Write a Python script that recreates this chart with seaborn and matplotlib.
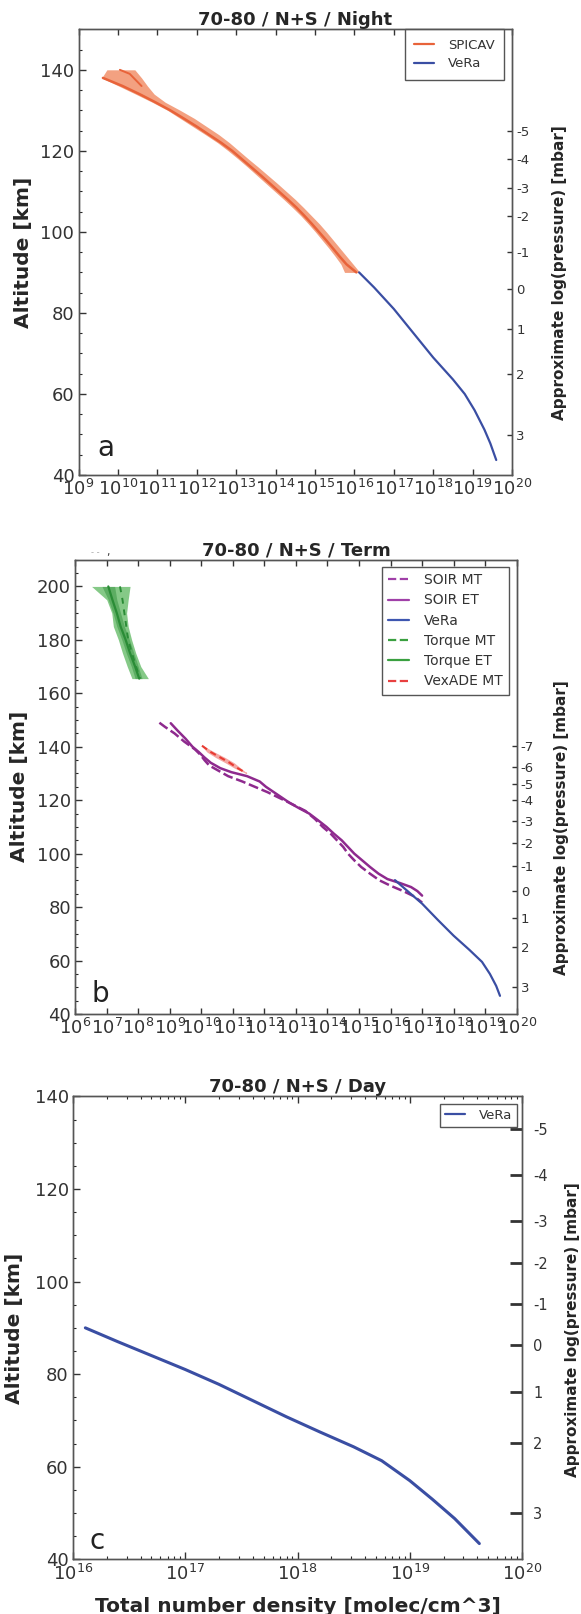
import numpy as np
import matplotlib
matplotlib.use("Agg")
import matplotlib.pyplot as plt
import matplotlib.ticker as mticker
from matplotlib.lines import Line2D
import seaborn as sns

# ---- data (log10 of total number density, altitude in km) ----
# panel a : night
spicav_band_alt = [140, 138, 136, 134, 132, 130, 128, 126, 124, 122, 120, 118, 116,
                   114, 112, 110, 108, 106, 104, 102, 100, 98, 96, 94, 92, 90]
spicav_band_lo = [9.72, 9.59, 10.02, 10.45, 10.87, 11.26, 11.58, 11.90, 12.22, 12.53, 12.80,
                  13.05, 13.29, 13.52, 13.75, 13.98, 14.21, 14.43, 14.64, 14.83, 15.01,
                  15.18, 15.35, 15.51, 15.66, 15.75]
spicav_band_hi = [10.43, 10.60, 10.75, 10.92, 11.20, 11.58, 11.94, 12.25, 12.56, 12.83, 13.07,
                  13.31, 13.56, 13.80, 14.04, 14.27, 14.50, 14.71, 14.91, 15.11, 15.29,
                  15.46, 15.63, 15.80, 15.97, 16.14]
spicav_line_alt = [138, 136, 134, 132, 130, 128, 126, 124, 122, 120, 118, 116, 114, 112,
                   110, 108, 106, 104, 102, 100, 98, 96, 94, 92, 90]
spicav_line = [9.62, 10.12, 10.55, 10.95, 11.33, 11.67, 12.00, 12.31, 12.62, 12.90, 13.14,
               13.38, 13.62, 13.85, 14.08, 14.31, 14.53, 14.73, 14.92, 15.10, 15.28, 15.45,
               15.62, 15.80, 16.05]
spicav_hook_alt = [140, 139, 137.5, 136]
spicav_hook = [10.05, 10.30, 10.45, 10.60]

vera_night_alt = [90, 86.3, 81.0, 75.0, 69.0, 63.6, 60.0, 56.0, 51.2, 47.8, 43.7]
vera_night = [16.12, 16.50, 17.00, 17.50, 18.00, 18.50, 18.80, 19.05, 19.30, 19.45, 19.60]

press_a_alt = [124.9, 117.9, 110.9, 103.9, 95.0, 86.0, 76.0, 65.0, 49.8]
press_a_lab = ["-5", "-4", "-3", "-2", "-1", "0", "1", "2", "3"]

# panel b : terminator
soir_et_alt = [148.8, 146, 143, 140, 138, 136, 134, 132, 130.5, 129, 127, 125, 123, 121,
               119, 117, 115, 112.5, 110, 107.5, 105, 102.5, 100, 97.5, 95, 92.5, 90.5,
               89, 87.5, 86, 84.3]
soir_et = [9.03, 9.25, 9.50, 9.72, 9.92, 10.10, 10.30, 10.60, 10.95, 11.45, 11.85, 12.05,
           12.30, 12.55, 12.80, 13.10, 13.42, 13.70, 13.97, 14.20, 14.45, 14.65, 14.85,
           15.10, 15.35, 15.62, 15.90, 16.30, 16.65, 16.85, 17.00]
soir_mt_alt = [149, 147.5, 145, 142, 139, 137, 135, 133, 131, 129, 127, 125, 123, 121, 119,
               116, 113, 110, 107.5, 105, 102.5, 100, 97.5, 95, 92.5, 90, 88, 86, 84, 81.7]
soir_mt = [8.67, 8.84, 9.15, 9.45, 9.80, 9.97, 10.10, 10.25, 10.55, 10.85, 11.30, 11.70,
           12.10, 12.45, 12.80, 13.30, 13.60, 13.85, 14.10, 14.30, 14.50, 14.65, 14.85,
           15.07, 15.35, 15.65, 16.00, 16.40, 16.75, 17.00]

vera_term_alt = [90.1, 86.4, 81.3, 75.2, 69.3, 64.0, 59.5, 55.0, 50.5, 46.8]
vera_term = [16.14, 16.50, 17.00, 17.50, 18.00, 18.50, 18.90, 19.15, 19.35, 19.47]

torque_alt = [200, 195, 190, 185, 180, 175, 170, 165.5]
torque_et = [7.05, 7.18, 7.32, 7.44, 7.60, 7.74, 7.90, 8.03]
torque_mt = [7.42, 7.50, 7.56, 7.62, 7.68, 7.80, 7.93, 8.06]
torque_mt_lo = [6.52, 7.00, 7.16, 7.21, 7.37, 7.50, 7.65, 7.80]
torque_mt_hi = [7.74, 7.68, 7.63, 7.68, 7.79, 7.92, 8.08, 8.32]
torque_et_lo = [6.85, 7.05, 7.20, 7.32, 7.48, 7.62, 7.78, 7.90]
torque_et_hi = [7.25, 7.32, 7.44, 7.56, 7.72, 7.86, 8.00, 8.12]

vex_alt = [140.4, 138, 136, 134, 132, 130.1]
vex_mt = [10.02, 10.30, 10.60, 10.90, 11.15, 11.43]
vex_lo = [10.00, 10.18, 10.45, 10.76, 11.05, 11.41]
vex_hi = [10.05, 10.42, 10.75, 11.04, 11.25, 11.45]

press_b_alt = [140.4, 132.3, 126.2, 120.1, 112.3, 104.0, 95.2, 86.0, 75.9, 65.2, 50.1]
press_b_lab = ["-7", "-6", "-5", "-4", "-3", "-2", "-1", "0", "1", "2", "3"]

# panel c : day
vera_day_alt = [90.0, 87.0, 84.0, 81.0, 77.8, 74.3, 70.8, 67.5, 64.3, 61.3, 57.0, 53.0,
                48.8, 43.4]
vera_day = [16.11, 16.40, 16.70, 17.00, 17.30, 17.60, 17.90, 18.20, 18.50, 18.75, 19.00,
            19.20, 19.40, 19.62]

press_c_alt = [133.0, 123.0, 113.0, 104.0, 95.2, 86.2, 76.1, 65.2, 50.1]
press_c_lab = ["-5", "-4", "-3", "-2", "-1", "0", "1", "2", "3"]

# ---- colours ----
SPICAV_C = "#e8633a"
SPICAV_F = "#f08a62"
VERA_C = "#3a4ea3"
SOIR_C = "#8e2a8e"
TORQUE_C = "#2a8c36"
TORQUE_F = "#5cb85f"
VEX_C = "#e83b32"

sns.set_style("ticks", {"xtick.direction": "in", "ytick.direction": "in",
                        "axes.edgecolor": "#444444"})
plt.rcParams["font.family"] = ["DejaVu Sans"]
plt.rcParams["axes.linewidth"] = 1.0

W, H = 581, 1614
fig = plt.figure(figsize=(W / 100, H / 100), dpi=100)


def px_rect(left, top, right, bottom):
    return [left / W, 1 - bottom / H, (right - left) / W, (bottom - top) / H]


def d(vals):
    return 10 ** np.asarray(vals, dtype=float)


def style_axes(ax, decades, ylim, title, letter, letter_xy, xminor=False):
    lo, hi = decades
    ax.set_xscale("log")
    ax.set_xlim(10.0 ** lo, 10.0 ** hi)
    ax.set_ylim(*ylim)
    # only decades inside the view, so no hidden labels sit off the figure
    ax.xaxis.set_major_locator(mticker.FixedLocator([10.0 ** k for k in range(lo, hi + 1)]))
    ax.xaxis.set_major_formatter(mticker.LogFormatterMathtext())
    if xminor:
        minors = [m * 10.0 ** k for k in range(lo, hi) for m in range(2, 10)]
        ax.xaxis.set_minor_locator(mticker.FixedLocator(minors))
        ax.xaxis.set_minor_formatter(mticker.NullFormatter())
    else:
        ax.xaxis.set_minor_locator(mticker.NullLocator())
    ax.yaxis.set_major_locator(mticker.MultipleLocator(20))
    ax.yaxis.set_minor_locator(mticker.MultipleLocator(5))
    ax.tick_params(axis="x", which="major", top=True, direction="in", length=4,
                   width=1, labelsize=13, pad=3, colors="#333333")
    ax.tick_params(axis="x", which="minor", top=True, direction="in", length=2, width=0.8)
    ax.tick_params(axis="y", which="major", left=True, right=False, direction="in",
                   length=5, width=1, labelsize=13, pad=3, colors="#333333")
    ax.tick_params(axis="y", which="minor", left=True, right=False, direction="in",
                   length=2.5, width=0.8)
    for s in ax.spines.values():
        s.set_visible(True)
        s.set_color("#555555")
    ax.set_title(title, fontsize=13, fontweight="bold", pad=3)
    ax.set_ylabel("Altitude [km]", fontsize=14.5, fontweight="bold")
    ax.text(letter_xy[0], letter_xy[1], letter, transform=ax.transAxes, fontsize=20,
            ha="center", va="center", color="#222222")


def pressure_axis(ax, alts, labels, fs, length, width, pad, label_xy, ylabel_xy):
    ax2 = ax.twinx()
    ax2.set_ylim(ax.get_ylim())
    ax2.set_yticks(alts)
    ax2.set_yticklabels(labels)
    ax2.yaxis.set_minor_locator(mticker.NullLocator())
    ax2.tick_params(axis="y", direction="in", length=length, width=width,
                    labelsize=fs, pad=pad, colors="#333333")
    for s in ax2.spines.values():
        s.set_color("#555555")
    ax2.set_ylabel("Approximate log(pressure) [mbar]", fontsize=11, fontweight="bold")
    ax2.yaxis.set_label_coords(*label_xy)
    ax.yaxis.set_label_coords(*ylabel_xy)
    return ax2


def legend(ax, items, fs, anchor, pad):
    handles = [Line2D([0], [0], color=c, ls=ls, lw=1.6) for _, c, ls in items]
    labels = [n for n, _, _ in items]
    leg = ax.legend(handles, labels, loc="upper right", bbox_to_anchor=anchor,
                    bbox_transform=ax.transAxes, fontsize=fs, frameon=True,
                    fancybox=False, framealpha=1, edgecolor="#555555",
                    handlelength=1.5, handletextpad=1.1, borderpad=pad,
                    labelspacing=0.45, borderaxespad=0)
    leg.get_frame().set_linewidth(1.0)
    for t in leg.get_texts():
        t.set_color("#333333")


# ---- panel a ----
ax_a = fig.add_axes(px_rect(78.5, 29.3, 512, 475))
ax_a.set_xscale("log")
ax_a.fill_betweenx(spicav_band_alt, d(spicav_band_lo), d(spicav_band_hi),
                   color=SPICAV_F, alpha=0.8, lw=0)
sns.lineplot(x=d(spicav_line), y=spicav_line_alt, sort=False, estimator=None,
             color=SPICAV_C, lw=1.8, ax=ax_a)
sns.lineplot(x=d(spicav_hook), y=spicav_hook_alt, sort=False, estimator=None,
             color=SPICAV_C, lw=1.4, ax=ax_a)
sns.lineplot(x=d(vera_night), y=vera_night_alt, sort=False, estimator=None,
             color=VERA_C, lw=1.6, ax=ax_a)
style_axes(ax_a, (9, 20), (40, 150), "70-80 / N+S / Night", "a", (0.062, 0.06))
legend(ax_a, [("SPICAV", SPICAV_C, "-"), ("VeRa", VERA_C, "-")], 9.5,
       (0.982, 1.0), 0.7)
pressure_axis(ax_a, press_a_alt, press_a_lab, 9.5, 3.5, 1.0, 3, (1.092, 0.455), (-0.105, 0.5))

# ---- panel b ----
ax_b = fig.add_axes(px_rect(75.2, 559.7, 516.7, 1014))
ax_b.set_xscale("log")
ax_b.fill_betweenx(torque_alt, d(torque_mt_lo), d(torque_mt_hi), color=TORQUE_F,
                   alpha=0.75, lw=0)
ax_b.fill_betweenx(torque_alt, d(torque_et_lo), d(torque_et_hi), color=TORQUE_C,
                   alpha=0.45, lw=0)
sns.lineplot(x=d(torque_et), y=torque_alt, sort=False, estimator=None,
             color=TORQUE_C, lw=1.6, ax=ax_b)
sns.lineplot(x=d(torque_mt), y=torque_alt, sort=False, estimator=None,
             color=TORQUE_C, lw=1.4, ls=(0, (3, 3)), ax=ax_b)
ax_b.fill_betweenx(vex_alt, d(vex_lo), d(vex_hi), color=VEX_C, alpha=0.45, lw=0)
sns.lineplot(x=d(vex_mt), y=vex_alt, sort=False, estimator=None,
             color=VEX_C, lw=1.5, ls=(0, (3, 2)), ax=ax_b)
sns.lineplot(x=d(soir_mt), y=soir_mt_alt, sort=False, estimator=None,
             color=SOIR_C, lw=1.8, ls=(0, (4, 1.5)), ax=ax_b)
sns.lineplot(x=d(soir_et), y=soir_et_alt, sort=False, estimator=None,
             color=SOIR_C, lw=1.8, ax=ax_b)
sns.lineplot(x=d(vera_term), y=vera_term_alt, sort=False, estimator=None,
             color=VERA_C, lw=1.6, ax=ax_b)
style_axes(ax_b, (6, 20), (40, 210), "70-80 / N+S / Term", "b", (0.056, 0.045))
legend(ax_b, [("SOIR MT", "#a040a8", "--"), ("SOIR ET", "#a040a8", "-"),
              ("VeRa", "#3e56b0", "-"), ("Torque MT", "#3aa040", "--"),
              ("Torque ET", "#3aa040", "-"), ("VexADE MT", "#e84040", "--")],
       10, (0.983, 0.984), 0.45)
pressure_axis(ax_b, press_b_alt, press_b_lab, 9.5, 3.5, 1.0, 3, (1.085, 0.41), (-0.105, 0.5))
fig.text(91 / W, 1 - 555 / H, "- -", fontsize=6, color="#aaaaaa")
fig.text(106 / W, 1 - 555 / H, ",", fontsize=8, color="#333333")

# ---- panel c ----
ax_c = fig.add_axes(px_rect(73, 1096.4, 522, 1559.3))
ax_c.set_xscale("log")
sns.lineplot(x=d(vera_day), y=vera_day_alt, sort=False, estimator=None,
             color=VERA_C, lw=2.2, ax=ax_c)
style_axes(ax_c, (16, 20), (40, 140), "70-80 / N+S / Day", "c", (0.053, 0.04), xminor=True)
ax_c.tick_params(axis="x", which="major", length=5)
ax_c.set_xlabel("Total number density [molec/cm^3]", fontsize=14.5, fontweight="bold")
ax_c.xaxis.set_label_coords(0.5, -0.081)
legend(ax_c, [("VeRa", VERA_C, "-")], 9.5, (0.989, 0.983), 0.35)
pressure_axis(ax_c, press_c_alt, press_c_lab, 10.5, 9, 2.0, 8, (1.095, 0.497), (-0.11, 0.498))

fig.savefig("out.png", dpi=100)
